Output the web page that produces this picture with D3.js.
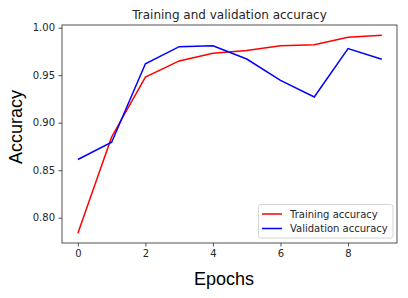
<!DOCTYPE html>
<html><head><meta charset="utf-8">
<script src="https://cdn.jsdelivr.net/npm/d3@7"></script>
<style>body{margin:0;background:#fff}svg{display:block;font-family:"DejaVu Sans",sans-serif}</style>
</head><body>
<script>
const epochs = [0,1,2,3,4,5,6,7,8,9];
const trainAcc = [0.7836,0.885,0.948,0.965,0.973,0.976,0.981,0.982,0.990,0.992];
const valAcc = [0.8613,0.8795,0.962,0.980,0.981,0.967,0.9446,0.927,0.978,0.9667];
const xTicks = [0,2,4,6,8];
const yTicks = [0.80,0.85,0.90,0.95,1.00];
const seriesNames = ["Training accuracy","Validation accuracy"];
const seriesColors = ["red","blue"];

const W=408,H=298, L=62,R=397,T=25,B=243;
const svg=d3.select("body").append("svg").attr("width",W).attr("height",H);
const x=d3.scaleLinear().domain([-0.47,9.45]).range([L,R]);
const y=d3.scaleLinear().domain([0.7734,1.0028]).range([B,T]);

const gx=svg.append("g").attr("transform",`translate(0,${B})`)
  .call(d3.axisBottom(x).tickValues(xTicks).tickFormat(d3.format("d")).tickSize(3.5).tickPadding(3.5));
const gy=svg.append("g").attr("transform",`translate(${L},0)`)
  .call(d3.axisLeft(y).tickValues(yTicks).tickFormat(d3.format(".2f")).tickSize(3.5).tickPadding(3.5));
[gx,gy].forEach(g=>{g.select(".domain").remove();g.selectAll("text").attr("font-size",10).attr("fill","#262626").attr("font-family","DejaVu Sans");g.selectAll("line").attr("stroke","#262626").attr("stroke-width",0.8);});

const line=d3.line().x((d,i)=>x(epochs[i])).y(d=>y(d));
[trainAcc,valAcc].forEach((s,k)=>{
  svg.append("path").attr("d",line(s)).attr("fill","none").attr("stroke",seriesColors[k]).attr("stroke-width",1.5);
});
svg.append("rect").attr("x",L).attr("y",T).attr("width",R-L).attr("height",B-T).attr("fill","none").attr("stroke","#262626").attr("stroke-width",0.8);

svg.append("text").attr("x",(L+R)/2).attr("y",T-6).attr("text-anchor","middle").attr("font-size",12).attr("fill","#262626").text("Training and validation accuracy");
svg.append("text").attr("x",224).attr("y",285).attr("text-anchor","middle").attr("font-size",18).attr("font-family","Liberation Sans, Arial, sans-serif").attr("fill","#000").text("Epochs");
svg.append("text").attr("transform",`translate(21.5,127) rotate(-90)`).attr("text-anchor","middle").attr("font-size",18).attr("font-family","Liberation Sans, Arial, sans-serif").attr("fill","#000").text("Accuracy");

const lg=svg.append("g");
lg.append("rect").attr("x",258.5).attr("y",204.5).attr("width",134.5).attr("height",33.5).attr("rx",2.5).attr("fill","#fff").attr("fill-opacity",0.8).attr("stroke","#ccc").attr("stroke-width",0.8);
seriesNames.forEach((n,k)=>{
  const yy=214+k*14.5;
  lg.append("line").attr("x1",262).attr("x2",282).attr("y1",yy).attr("y2",yy).attr("stroke",seriesColors[k]).attr("stroke-width",1.5);
  lg.append("text").attr("x",290).attr("y",yy+3.5).attr("font-size",10).attr("fill","#262626").text(n);
});
</script>
</body></html>
